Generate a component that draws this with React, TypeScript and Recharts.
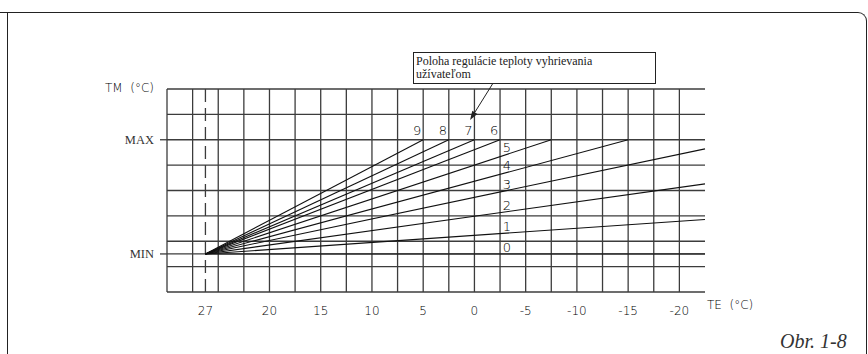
import {
  LineChart,
  Line,
  XAxis,
  YAxis,
  CartesianGrid,
  ReferenceLine,
  ReferenceDot,
  Label,
} from 'recharts';

// outside temperature TE (°C) tick labels
const TE_TICKS = [27, 20, 15, 10, 5, 0, -5, -10, -15, -20];
// heating curve positions 0..9
const CURVE_IDS = [0, 1, 2, 3, 4, 5, 6, 7, 8, 9];
// where each curve ends: outside temp and water temp (TM, relative units, MIN=1.5, MAX=6)
const CURVE_END_TE = [-22.5, -22.5, -22.5, -22.5, -15, -7.5, -2.5, 0, 2.5, 5];
const CURVE_END_TM = [1.5, 2.86, 4.26, 5.64, 6, 6, 6, 6, 6, 6];
const CURVE_START_TE = 27;
const TM_MIN = 1.5;
const TM_MAX = 6;
const TM_GRID = [0, 1, 1.5, 2, 3, 4, 5, 6, 7, 8];

const TE_LEFT = 30;
const TE_RIGHT = -22.5;

// the drawing's TE axis is squeezed left of 20°C (27 sits half a cell from 30)
function teToCol(te: number) {
  if (te > 20) return 4 - ((te - 20) * 2.5) / 7;
  return 4 + (20 - te) / 2.5;
}

const COLS = teToCol(TE_RIGHT) - teToCol(TE_LEFT); // 21 cells
const GRID_COLS = Array.from({ length: COLS + 1 }, (_, i) => i);

// one row per x where something starts/ends, curves joined with connectNulls
const rowsByCol = new Map<number, any>();
const startCol = teToCol(CURVE_START_TE);
rowsByCol.set(startCol, { col: startCol });
CURVE_IDS.forEach((id) => {
  rowsByCol.get(startCol)[`c${id}`] = TM_MIN;
  const c = teToCol(CURVE_END_TE[id]);
  if (!rowsByCol.has(c)) rowsByCol.set(c, { col: c });
  rowsByCol.get(c)[`c${id}`] = CURVE_END_TM[id];
});
const data = [...rowsByCol.values()].sort((a, b) => a.col - b.col);

const LABEL_COL = 13.27;
function tmOnCurve(id: number, col: number) {
  const endCol = teToCol(CURVE_END_TE[id]);
  return TM_MIN + ((CURVE_END_TM[id] - TM_MIN) * (col - startCol)) / (endCol - startCol);
}

const INK = '#222';
const GRID = '#3c3c3c';
const SANS = '"DejaVu Sans", sans-serif';
const SERIF = '"Liberation Serif", serif';

const ArrowShape = (p: any) => {
  const { x1, y1, x2, y2 } = p;
  if (x1 == null) return null;
  const a = Math.atan2(y2 - y1, x2 - x1);
  const len = 9;
  const w = 3;
  const bx = x2 - len * Math.cos(a);
  const by = y2 - len * Math.sin(a);
  const pts = [
    `${x2},${y2}`,
    `${bx + w * Math.sin(a)},${by - w * Math.cos(a)}`,
    `${bx - w * Math.sin(a)},${by + w * Math.cos(a)}`,
  ].join(' ');
  return (
    <g>
      <line x1={x1} y1={y1} x2={bx} y2={by} stroke={INK} strokeWidth={1} />
      <polygon points={pts} fill={INK} />
    </g>
  );
};

export default function App() {
  return (
    <div style={{ position: 'absolute', left: 0, top: 0, width: 868, height: 354, background: '#fff', overflow: 'hidden' }}>
      {/* page frame */}
      <div
        style={{
          position: 'absolute',
          left: 7,
          top: 12,
          width: 858,
          height: 400,
          borderTop: `1.5px solid ${INK}`,
          borderLeft: `1.5px solid ${INK}`,
          borderRight: `1.5px solid ${INK}`,
          borderTopRightRadius: 9,
        }}
      />
      <div style={{ position: 'absolute', left: 0, top: 12, width: 8, borderTop: `1.5px solid ${INK}` }} />

      <LineChart
        width={868}
        height={354}
        data={data}
        margin={{ top: 89, right: 163, bottom: 32, left: 107 }}
        style={{ position: 'absolute', left: 0, top: 0 }}
      >
        <CartesianGrid
          stroke={GRID}
          strokeWidth={1.3}
          verticalValues={GRID_COLS}
          horizontalValues={TM_GRID}
        />
        <XAxis
          type="number"
          dataKey="col"
          domain={[0, COLS]}
          ticks={TE_TICKS.map(teToCol)}
          tickFormatter={(v: number) => {
            const i = TE_TICKS.findIndex((t) => Math.abs(teToCol(t) - v) < 1e-6);
            return i >= 0 ? String(TE_TICKS[i]) : '';
          }}
          axisLine={false}
          tickLine={false}
          tickMargin={8}
          height={30}
          interval={0}
          tick={{ fill: '#000', fontSize: 12, fontFamily: SANS, fontWeight: 300 }}
        >
          <Label
            content={({ viewBox }: any) => (
              <text
                x={viewBox.x + viewBox.width + 2}
                y={viewBox.y + 13}
                fill="#000"
                fontSize={12}
                fontFamily={SANS}
                fontWeight={300}
                dominantBaseline="central"
                style={{ whiteSpace: 'pre' }}
              >
                {'TE  (°C)'}
              </text>
            )}
          />
        </XAxis>
        <YAxis
          type="number"
          domain={[0, 8]}
          ticks={[TM_MIN, TM_MAX]}
          tickFormatter={(v: number) => (v === TM_MAX ? 'MAX' : 'MIN')}
          axisLine={false}
          tickLine={{ stroke: GRID, strokeWidth: 1.3 }}
          tickSize={7}
          tickMargin={6}
          width={60}
          interval={0}
          tick={{ fill: '#333', fontSize: 12.5, fontFamily: SERIF }}
        >
          <Label
            content={({ viewBox }: any) => (
              <text
                x={viewBox.x + viewBox.width - 13}
                y={viewBox.y - 1}
                fill="#000"
                fontSize={12}
                fontFamily={SANS}
                fontWeight={300}
                textAnchor="end"
                dominantBaseline="central"
                style={{ whiteSpace: 'pre' }}
              >
                {'TM  (°C)'}
              </text>
            )}
          />
        </YAxis>

        <ReferenceLine x={teToCol(27)} stroke={GRID} strokeWidth={1.3} strokeDasharray="13 6" />

        {CURVE_IDS.map((id) => (
          <Line
            key={id}
            type="linear"
            dataKey={`c${id}`}
            stroke="#111"
            strokeWidth={1.1}
            dot={false}
            activeDot={false}
            connectNulls
            isAnimationActive={false}
          />
        ))}

        {CURVE_IDS.map((id) => {
          const endCol = teToCol(CURVE_END_TE[id]);
          const atEnd = CURVE_END_TM[id] === TM_MAX && endCol <= 13;
          const x = atEnd ? endCol : LABEL_COL;
          const y = atEnd ? TM_MAX : tmOnCurve(id, LABEL_COL);
          return (
            <ReferenceDot
              key={`l${id}`}
              x={x}
              y={y}
              r={0}
              ifOverflow="visible"
              shape={(p: any) => (
                <text
                  x={atEnd ? p.cx - 6 : p.cx}
                  y={atEnd ? p.cy - 9.5 : p.cy - 6.5}
                  textAnchor="middle"
                  dominantBaseline="central"
                  fill="#000"
                  fontSize={13}
                  fontFamily={SANS}
                  fontWeight={300}
                >
                  {id}
                </text>
              )}
            />
          );
        })}

        <ReferenceLine
          segment={[
            { x: 12.72, y: 8.22 },
            { x: 11.83, y: 6.78 },
          ]}
          ifOverflow="visible"
          shape={ArrowShape}
        />
      </LineChart>

      {/* callout box */}
      <div
        style={{
          position: 'absolute',
          left: 413,
          top: 52,
          width: 243,
          height: 32,
          boxSizing: 'border-box',
          border: `1px solid ${INK}`,
          background: '#fff',
          fontFamily: SERIF,
          fontSize: 12,
          lineHeight: '12.6px',
          color: INK,
          padding: '2px 0 0 2px',
        }}
      >
        Poloha regulácie teploty vyhrievania
        <br />
        užívateľom
      </div>

      <div
        style={{
          position: 'absolute',
          left: 780,
          top: 329,
          fontFamily: SERIF,
          fontStyle: 'italic',
          fontSize: 20,
          lineHeight: '24px',
          color: '#333',
        }}
      >
        Obr. 1-8
      </div>
    </div>
  );
}
